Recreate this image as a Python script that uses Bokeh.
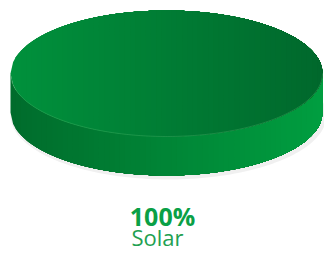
import numpy as np
from bokeh.plotting import figure
from bokeh.models import Range1d
from bokeh.embed import file_html
from bokeh.resources import INLINE
from bokeh.core.properties import value

categories = ["Solar"]
values = [100]
labels = ["100%"]

W, H = 324, 253
p = figure(width=W, height=H, output_backend="svg", toolbar_location=None,
           x_range=Range1d(0, 324), y_range=Range1d(253, 0), min_border=0)
p.axis.visible = False
p.grid.visible = False
p.outline_line_color = None
p.background_fill_color = "white"

cx, cy, a, b, depth = 166, 73, 156, 63, 39

def lerp(c0, c1, t):
    return "#%02x%02x%02x" % tuple(int(round(c0[i] + (c1[i] - c0[i]) * t)) for i in range(3))

total = float(sum(values))
start = 0.0
for cat, v in zip(categories, values):
    ang0 = start
    ang1 = start + 2 * np.pi * v / total
    start = ang1
    # shadow
    ts = np.linspace(ang0, ang1, 200)
    p.patch(cx + 2 + (a + 2) * np.cos(ts), cy + depth + 3 + (b + 1) * np.sin(ts),
            fill_color="#000000", fill_alpha=0.06, line_color=None)
    N = 60
    xs_edges = np.linspace(cx - a, cx + a, N + 1)
    top_l, top_r = (0, 145, 60), (0, 104, 44)
    side_l, side_r = (0, 108, 44), (0, 158, 64)
    for i in range(N):
        x0 = xs_edges[i]
        xx = np.linspace(x0, cx + a, 120)
        u = np.clip((xx - cx) / a, -1, 1)
        h = b * np.sqrt(1 - u ** 2)
        t = (x0 + 0.5 * (xs_edges[1] - xs_edges[0]) - (cx - a)) / (2 * a)
        px = np.concatenate([xx, xx[::-1]])
        py2 = np.concatenate([cy + h, (cy + depth + h)[::-1]])
        c2 = lerp(side_l, side_r, t)
        p.patch(px, py2, fill_color=c2, line_color=None)
    for i in range(N):
        x0 = xs_edges[i]
        xx = np.linspace(x0, cx + a, 120)
        u = np.clip((xx - cx) / a, -1, 1)
        h = b * np.sqrt(1 - u ** 2)
        t = (x0 + 0.5 * (xs_edges[1] - xs_edges[0]) - (cx - a)) / (2 * a)
        px = np.concatenate([xx, xx[::-1]])
        py = np.concatenate([cy - h, (cy + h)[::-1]])
        c = lerp(top_l, top_r, t)
        p.patch(px, py, fill_color=c, line_color=None)
    tt = np.linspace(0, np.pi, 200)
    p.line(cx + a * np.cos(tt), cy + b * np.sin(tt), line_color="#4fb870", line_alpha=0.35, line_width=1)

p.text(x=[162], y=[215], text=labels, text_font=value("Open Sans"), text_font_style="bold",
       text_font_size="25px", text_color="#0aa046", text_align="center", text_baseline="middle")
p.text(x=[157], y=[236], text=categories, text_font=value("Open Sans"),
       text_font_size="22px", text_color="#22a050", text_align="center", text_baseline="middle")

open("out.html", "w").write(file_html(p, INLINE))
